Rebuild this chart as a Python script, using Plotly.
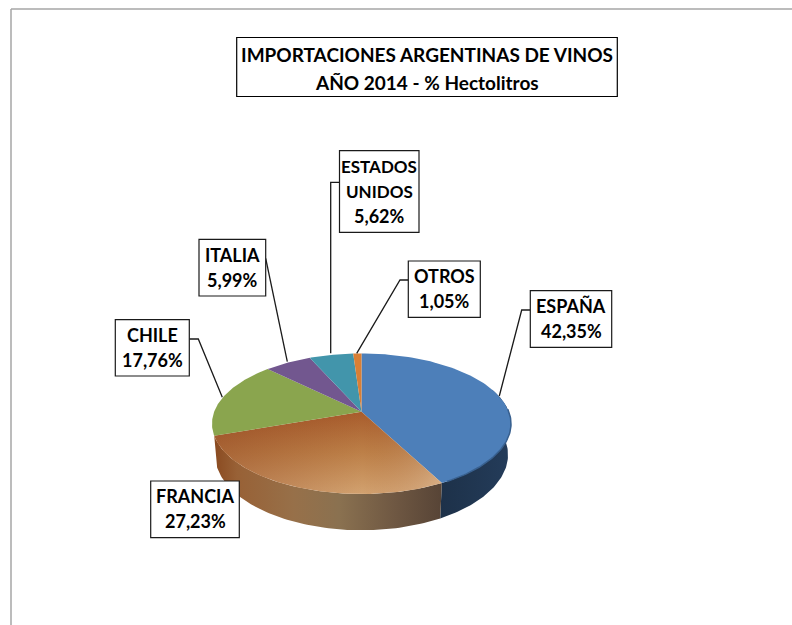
import numpy as np
import plotly.graph_objects as go

# ---- data ----
countries = ["ESPAÑA", "FRANCIA", "CHILE", "ITALIA", "ESTADOS UNIDOS", "OTROS"]
values = [42.35, 27.23, 17.76, 5.99, 5.62, 1.05]
title_lines = ["IMPORTACIONES ARGENTINAS DE VINOS", "AÑO 2014 - % Hectolitros"]
label_lines = [["ESPAÑA"], ["FRANCIA"], ["CHILE"], ["ITALIA"], ["ESTADOS", "UNIDOS"], ["OTROS"]]

# ---- styles / layout ----
flat_colors = {2: "#8aa54e", 3: "#72578f", 4: "#4295ab", 5: "#d97f35"}
boxes = [(530.3, 290.7, 611.7, 347.3), (150.7, 481, 239.3, 537.7), (115.3, 319.7, 189.3, 376),
         (199, 239.3, 265.7, 296), (339.5, 150.7, 419, 232.3), (408.3, 261, 480.3, 317.3)]
leaders = [[(530.3, 310), (521.7, 310), (499.3, 396)],
           None,
           [(189.3, 339), (198.3, 339), (222.3, 397.3)],
           [(265.7, 258.3), (287.3, 361.7)],
           [(339.5, 182.3), (330.7, 182.3), (330.7, 353.3)],
           [(408.3, 280), (400, 280), (356.7, 353.3)]]
CX, CY, A, B, K = 361.5, 411.7, 147.3, 68.2, 0.1716
DEPTH, BOTTOM_X = 30.0, 0.98


def project(theta_deg, bottom=False):
    """Perspective projection of a point on the pie rim (clockwise from 12 o'clock)."""
    t = np.radians(np.asarray(theta_deg, dtype=float))
    X, Y = np.sin(t), -np.cos(t)
    w = 1 - K * Y
    x, y = A * X / w, B * Y / w
    if bottom:
        return CX + BOTTOM_X * x, CY + y + DEPTH / w
    return CX + x, CY + y


cum = np.concatenate([[0], np.cumsum(values)]) / sum(values) * 360
fig = go.Figure()


def poly(xs, ys, **kw):
    fig.add_trace(go.Scatter(x=xs, y=ys, mode="lines", fill="toself", line=dict(width=0),
                             hoverinfo="skip", showlegend=False, **kw))


def wall(t0, t1, **kw):
    th = np.linspace(t0, t1, 80)
    x1, y1 = project(th)
    x2, y2 = project(th[::-1], bottom=True)
    poly(np.r_[x1, x2], np.r_[y1, y2], **kw)


def slice_xy(t0, t1):
    x, y = project(np.linspace(t0, t1, 100))
    return np.r_[CX, x, CX], np.r_[CY, y, CY]


# side walls
wall(70, cum[1], fillgradient=dict(type="horizontal",
     colorscale=[[0, "#1d3149"], [1, "#243c5a"]]))
wall(cum[1], cum[2], fillgradient=dict(type="horizontal", colorscale=[
    [0, "#8a4a20"], [0.1, "#986136"], [0.35, "#977049"], [0.55, "#8a7150"],
    [0.8, "#6e5742"], [1, "#574436"]]))

# top face
x, y = slice_xy(cum[0], cum[1])
poly(x, y, fillcolor="#4d7fb9")
x, y = slice_xy(cum[1], cum[2])
poly(x, y, fillgradient=dict(type="vertical",
     colorscale=[[0, "#d2a270"], [0.5, "#bd8048"], [1, "#a85c2c"]]))
poly(x, y, fillgradient=dict(type="horizontal",
     colorscale=[[0, "rgba(130,50,20,0.35)"], [0.65, "rgba(130,50,20,0)"], [1, "rgba(255,255,255,0.2)"]]))
for i, c in flat_colors.items():
    x, y = slice_xy(cum[i], cum[i + 1])
    poly(x, y, fillcolor=c)

# bevel on the blue rim
bx, by = project(np.linspace(88, cum[1] - 2, 60))
fig.add_trace(go.Scatter(x=bx, y=by, mode="lines", line=dict(color="#38608f", width=1.5),
                         hoverinfo="skip", showlegend=False))

# leader lines
for pts in leaders:
    if pts:
        fig.add_trace(go.Scatter(x=[p[0] for p in pts], y=[p[1] for p in pts], mode="lines",
                                 line=dict(color="#1a1a1a", width=1.3), hoverinfo="skip", showlegend=False))

shapes = [
    dict(type="line", x0=11, x1=11, y0=9, y1=625, line=dict(color="#a6a6a6", width=1.5)),
    dict(type="line", x0=11, x1=792, y0=9, y1=9, line=dict(color="#a6a6a6", width=1.5)),
    dict(type="rect", x0=236.7, x1=617.3, y0=37.5, y1=96.5, fillcolor="white",
         line=dict(color="#000000", width=1.2)),
]
annotations = []


def text(s, x, y, size=18):
    annotations.append(dict(x=x, y=y, text=f"<b>{s}</b>", showarrow=False,
                            font=dict(family="Lato", size=size, color="#000000"),
                            xanchor="center", yanchor="middle", xref="x", yref="y"))


text(title_lines[0], 427, 54.5, 19)
text(title_lines[1], 427, 82, 19)

for box, name_lines, v in zip(boxes, label_lines, values):
    shapes.append(dict(type="rect", x0=box[0], x1=box[2], y0=box[1], y1=box[3], fillcolor="white",
                       line=dict(color="#1a1a1a", width=1.2)))
    lines = name_lines + [f"{v:.2f}".replace(".", ",") + "%"]
    cx, cy = (box[0] + box[2]) / 2, (box[1] + box[3]) / 2 - 0.5
    for j, ln in enumerate(lines):
        long_name = len(lines) == 3 and j < 2
        text(ln, cx, cy + (j - (len(lines) - 1) / 2) * 25, 17 if long_name else 18)

fig.update_layout(
    width=792, height=625, autosize=False, margin=dict(l=0, r=0, t=0, b=0),
    paper_bgcolor="white", plot_bgcolor="white", showlegend=False,
    xaxis=dict(range=[0, 792], visible=False, fixedrange=True),
    yaxis=dict(range=[625, 0], visible=False, fixedrange=True),
    shapes=shapes, annotations=annotations,
)
fig.write_html("out.html", config=dict(displayModeBar=False),
               post_script="document.body.style.margin='0';")
